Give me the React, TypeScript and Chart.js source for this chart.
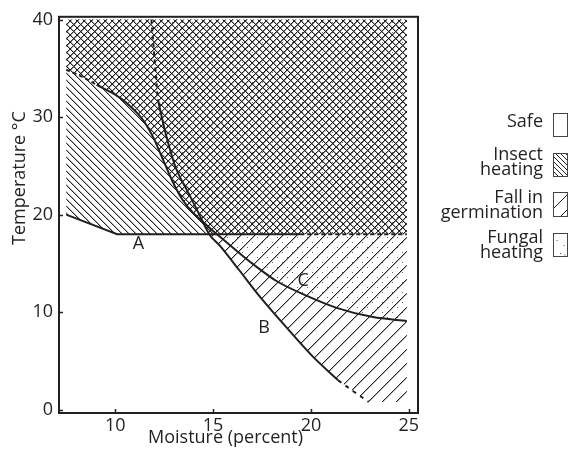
import React, { useEffect, useRef } from "react";
import { Chart, registerables } from "chart.js";

Chart.register(...registerables);

type P = [number, number];

const INK = "#231f20";
const HATCH = "#222222";
const HATCH_SOFT = "rgba(34,34,34,0.35)";
const FONT_SIZE = 18;
const FONT = `${FONT_SIZE}px 'Open Sans'`;

// Axes
const xTickValues = [10, 15, 20, 25];
const yTickValues = [0, 10, 20, 30, 40];
const xRange: P = [7.13, 25.47];
const yRange: P = [-0.33, 40.28];
const xTitle = "Moisture (percent)";
const yTitle = "Temperature \u00B0C";

// Line A (safe limit)
const lineASolid: P[] = [[7.5, 20], [10.1, 18], [19.45, 18]];
const lineADashed: P[] = [[19.45, 18], [24.9, 18]];

// Curve C
const curveCDashed: P[] = [[7.5, 34.85], [8.3, 34.15], [9.05, 33.3]];
const curveCSolid: P[] = [
  [9.05, 33.3], [10.0, 32.3], [10.7, 31.25], [11.35, 29.9], [11.9, 28.1],
  [12.42, 25.75], [12.93, 23.4], [13.45, 21.5], [14.0, 20.15], [14.66, 18.95],
  [15.34, 17.75], [16.2, 16.3], [17.03, 14.95], [18.24, 13.2], [19.59, 11.85],
  [21.31, 10.45], [23.17, 9.5], [24.9, 9.1],
];

// Curve B
const curveBDashedTop: P[] = [[11.85, 40], [12.18, 31.8]];
const curveBSolid: P[] = [
  [12.18, 31.8], [12.61, 28.07], [13.12, 24.68], [13.8, 22.0], [14.3, 20.0],
  [14.83, 17.92], [15.38, 16.75], [16.36, 14.25], [17.39, 11.6], [18.75, 8.44],
  [20.1, 5.45], [21.39, 3.02],
];
const curveBDashedTail: P[] = [[21.39, 3.02], [22.2, 1.85], [22.95, 0.8]];

// Zones
const crossingBC: P = [14.49, 19.26];
const zoneTop = 40;
const zoneBottom = 0.8;
const zoneLeft = 7.5;
const zoneRight = 24.9;
const lineALevel = 18;

// Curve labels
const curveLabelText = ["A", "B", "C"];
const curveLabelX = [11.19, 17.6, 19.6];
const curveLabelY = [17.04, 8.43, 13.18];

// Legend
const legendLabels = [["Safe"], ["Insect", "heating"], ["Fall in", "germination"], ["Fungal", "heating"]];
const legendKinds = ["safe", "insect", "germination", "fungal"];

// ---- derived polygons
const cAll: P[] = [...curveCDashed, ...curveCSolid.slice(1)];
const bAll: P[] = [...curveBDashedTop, ...curveBSolid.slice(1), ...curveBDashedTail.slice(1)];
const cAbove = cAll.filter((p) => p[1] > crossingBC[1]);
const cBelow = cAll.filter((p) => p[1] < crossingBC[1]);
const bAbove = bAll.filter((p) => p[1] > crossingBC[1]);
const bBelow = bAll.filter((p) => p[1] < crossingBC[1]);

function interpAtY(pts: P[], yv: number): P {
  for (let i = 0; i < pts.length - 1; i++) {
    const [x1, y1] = pts[i];
    const [x2, y2] = pts[i + 1];
    if ((y1 - yv) * (y2 - yv) <= 0 && y1 !== y2) {
      const t = (yv - y1) / (y2 - y1);
      return [x1 + t * (x2 - x1), yv];
    }
  }
  return pts[pts.length - 1];
}

const insectZone: P[] = [[zoneLeft, zoneTop], ...lineASolid, ...lineADashed.slice(1), [zoneRight, zoneTop]];
const germZone: P[] = [
  [zoneLeft, zoneTop], ...cAbove, crossingBC, ...bBelow, [zoneRight, zoneBottom], [zoneRight, zoneTop],
];
const germDenseZone: P[] = [
  [zoneLeft, zoneTop], ...cAbove, crossingBC,
  ...bBelow.filter((p) => p[1] > lineALevel), interpAtY(bAll, lineALevel),
  [zoneRight, lineALevel], [zoneRight, zoneTop],
];
const fungalZone: P[] = [...bAbove, crossingBC, ...cBelow, [zoneRight, zoneTop]];

function pixelHatch(period: number, dir: "back" | "fwd", offsets: number[]) {
  const c = document.createElement("canvas");
  c.width = period;
  c.height = period;
  const g = c.getContext("2d")!;
  for (const off of offsets) {
    for (let i = 0; i < period; i++) {
      const px = (i + off) % period;
      const py = dir === "back" ? i : period - 1 - i;
      g.fillStyle = HATCH;
      g.fillRect(px, py, 1, 1);
      g.fillStyle = HATCH_SOFT;
      g.fillRect((px + 1) % period, py, 1, 1);
    }
  }
  return g.createPattern(c, "repeat")!;
}

function dotPattern() {
  const c = document.createElement("canvas");
  c.width = 10;
  c.height = 10;
  const g = c.getContext("2d")!;
  g.fillStyle = "#666";
  g.fillRect(2, 2, 1, 1);
  g.fillRect(7, 7, 1, 1);
  return g.createPattern(c, "repeat")!;
}

const toXY = (pts: P[]) => pts.map(([x, y]) => ({ x, y }));

function drawLegendBox(ctx: CanvasRenderingContext2D, kind: string, x: number, y: number, w: number, h: number) {
  ctx.save();
  ctx.beginPath();
  ctx.rect(x, y, w, h);
  ctx.clip();
  ctx.fillStyle = "#fff";
  ctx.fillRect(x, y, w, h);
  ctx.strokeStyle = HATCH;
  ctx.lineWidth = 1;
  if (kind === "insect") {
    for (let k = -h; k < w; k += 5) {
      ctx.beginPath();
      ctx.moveTo(x + k, y);
      ctx.lineTo(x + k + h, y + h);
      ctx.stroke();
    }
  } else if (kind === "germination") {
    for (const c of [16, 31]) {
      ctx.beginPath();
      ctx.moveTo(x, y + c);
      ctx.lineTo(x + c, y);
      ctx.stroke();
    }
  } else if (kind === "fungal") {
    ctx.fillStyle = "#555";
    for (const [dx, dy] of [[3, 6.5], [10, 11.5], [6.5, 19.5], [11, 21]]) ctx.fillRect(x + dx, y + dy, 1, 1);
  }
  ctx.restore();
  ctx.strokeStyle = "#444";
  ctx.lineWidth = 1;
  ctx.strokeRect(x, y, w, h);
}

const overlayPlugin = {
  id: "overlay",
  afterDraw(chart: any) {
    const { ctx, chartArea: a } = chart;
    const xs = chart.scales.x;
    const ys = chart.scales.y;
    ctx.save();
    ctx.strokeStyle = INK;
    ctx.lineWidth = 2;
    ctx.strokeRect(a.left, a.top, a.right - a.left, a.bottom - a.top);
    ctx.lineWidth = 1.5;
    for (const v of xTickValues) {
      const px = Math.round(xs.getPixelForValue(v)) + 0.5;
      ctx.beginPath();
      ctx.moveTo(px, a.bottom);
      ctx.lineTo(px, a.bottom - 4);
      ctx.stroke();
    }
    for (const v of yTickValues) {
      const py = Math.round(ys.getPixelForValue(v)) + 0.5;
      ctx.beginPath();
      ctx.moveTo(a.left, py);
      ctx.lineTo(a.left + 4, py);
      ctx.stroke();
    }
    ctx.fillStyle = INK;
    ctx.font = FONT;
    ctx.textAlign = "center";
    ctx.textBaseline = "middle";
    curveLabelText.forEach((t, i) => {
      ctx.fillText(t, xs.getPixelForValue(curveLabelX[i]), ys.getPixelForValue(curveLabelY[i]));
    });
    ctx.fillText(xTitle, 225.5, 438);
    ctx.save();
    ctx.translate(20, 178);
    ctx.rotate(-Math.PI / 2);
    ctx.fillText(yTitle, 0, 0);
    ctx.restore();

    // legend
    const boxTops = [113.5, 153.5, 192.5, 233.5];
    const boxH = [23, 23, 24, 23];
    const textY = [[121.5], [155, 170], [197.5, 212.5], [238, 253]];
    ctx.textAlign = "right";
    legendKinds.forEach((k, i) => {
      drawLegendBox(ctx, k, 553.5, boxTops[i], 14, boxH[i]);
      ctx.fillStyle = INK;
      legendLabels[i].forEach((line, j) => ctx.fillText(line, 543, textY[i][j]));
    });
    ctx.restore();
  },
};

export default function App() {
  const ref = useRef<HTMLCanvasElement>(null);
  useEffect(() => {
    const canvas = ref.current!;
    Chart.defaults.font.family = "'Open Sans', 'Noto Sans', sans-serif";
    Chart.defaults.color = INK;
    const backHatch = pixelHatch(7, "back", [0]);
    const fwdHatch = pixelHatch(14, "fwd", [0]);
    const fwdDense = pixelHatch(14, "fwd", [0, 7]);
    const dots = dotPattern();

    const zone = (pts: P[], bg: any) => ({
      data: toXY(pts),
      fill: "shape",
      backgroundColor: bg,
      borderColor: "rgba(0,0,0,0)",
      borderWidth: 0,
      pointRadius: 0,
      tension: 0,
      order: 2,
    });
    const curve = (pts: P[], dash: number[], smooth: boolean) => ({
      data: toXY(pts),
      fill: false,
      borderColor: INK,
      borderWidth: 2,
      borderDash: dash,
      pointRadius: 0,
      tension: smooth ? 0.3 : 0,
      order: 1,
    });

    const chart = new Chart(canvas, {
      type: "line",
      data: {
        datasets: [
          zone(insectZone, backHatch),
          zone(germZone, fwdHatch),
          zone(germDenseZone, fwdDense),
          zone(fungalZone, dots),
          curve(lineASolid, [], false),
          curve(lineADashed, [4, 3], false),
          curve(curveCDashed, [4, 3], true),
          curve(curveCSolid, [], true),
          curve(curveBDashedTop, [4, 4], false),
          curve(curveBSolid, [], true),
          curve(curveBDashedTail, [4, 5], false),
        ] as any,
      },
      options: {
        animation: false,
        responsive: true,
        maintainAspectRatio: false,
        events: [],
        layout: { padding: { top: 13, right: 152, left: 0, bottom: 0 } },
        plugins: { legend: { display: false }, tooltip: { enabled: false } },
        scales: {
          x: {
            type: "linear",
            min: xRange[0],
            max: xRange[1],
            grid: { display: false, drawTicks: false },
            border: { display: false },
            ticks: { color: INK, font: { size: FONT_SIZE }, padding: 2 },
            afterBuildTicks: (s: any) => {
              s.ticks = xTickValues.map((v) => ({ value: v }));
            },
            afterFit: (s: any) => {
              s.height = 37;
            },
          },
          y: {
            type: "linear",
            min: yRange[0],
            max: yRange[1],
            grid: { display: false, drawTicks: false },
            border: { display: false },
            ticks: { color: INK, font: { size: FONT_SIZE }, padding: 6 },
            afterBuildTicks: (s: any) => {
              s.ticks = yTickValues.map((v) => ({ value: v }));
            },
            afterFit: (s: any) => {
              s.width = 59;
            },
          },
        },
      } as any,
      plugins: [overlayPlugin],
    });
    let cancelled = false;
    const fonts: any = (document as any).fonts;
    if (fonts && fonts.load) {
      fonts.load(FONT).then(() => { if (!cancelled) chart.update(); }).catch(() => {});
    }
    return () => {
      cancelled = true;
      chart.destroy();
    };
  }, []);
  return (
    <div style={{ position: "fixed", left: 0, top: 0, width: 570, height: 450, background: "#fff" }}>
      <canvas ref={ref} />
    </div>
  );
}
